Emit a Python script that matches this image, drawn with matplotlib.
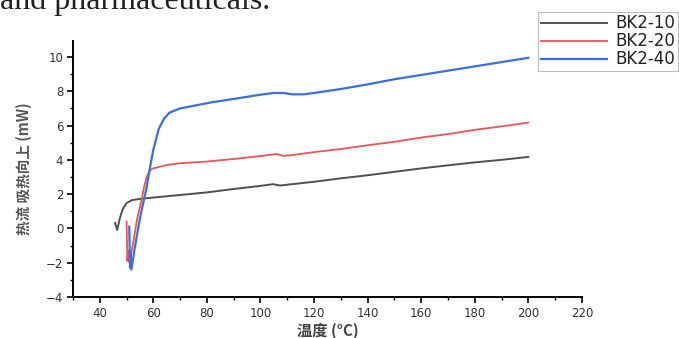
import matplotlib
matplotlib.use("Agg")
import matplotlib.pyplot as plt
from matplotlib.ticker import MultipleLocator

plt.rcParams['font.family'] = ['DejaVu Sans', 'Noto Sans CJK SC']

# 数据
t_10 = [45.7, 46.5, 47.5, 48.5, 50, 52, 55, 60, 70, 80, 90, 100, 104.7, 107.3,
        110, 120, 130, 140, 150, 160, 170, 180, 190, 200]
hf_10 = [0.32, -0.09, 0.6, 1.1, 1.48, 1.65, 1.72, 1.8, 1.95, 2.1, 2.3, 2.48, 2.58, 2.5,
         2.55, 2.72, 2.92, 3.1, 3.3, 3.5, 3.68, 3.85, 4.0, 4.17]

t_20 = [50.0, 50.3, 50.6, 51.0, 51.6, 52.5, 54, 55.6, 56.5, 57.5, 58.8, 60, 65, 70,
        80, 90, 100, 106, 108.5, 112, 120, 130, 140, 150, 160, 170, 180, 190, 200]
hf_20 = [0.4, -1.9, -1.3, -2.0, -1.6, -0.8, 0.6, 1.66, 2.4, 3.0, 3.41, 3.5, 3.7, 3.8,
         3.9, 4.05, 4.22, 4.34, 4.23, 4.28, 4.45, 4.63, 4.85, 5.05, 5.3, 5.5, 5.75, 5.95, 6.17]

t_40 = [51.0, 51.3, 51.5, 51.8, 53, 55, 57.5, 58.8, 60, 62, 64, 66, 70, 75, 82, 90,
        100, 105, 108.5, 112, 116, 120, 130, 140, 150, 160, 170, 180, 190, 200]
hf_40 = [0.1, -2.3, -1.4, -2.4, -1.2, 0.6, 2.4, 3.6, 4.6, 5.8, 6.4, 6.75, 7.0, 7.15, 7.36, 7.55,
         7.8, 7.9, 7.9, 7.82, 7.82, 7.9, 8.13, 8.4, 8.7, 8.95, 9.2, 9.45, 9.7, 9.95]

labels = ['BK2-10', 'BK2-20', 'BK2-40']

fig = plt.figure(figsize=(6.79, 3.38), dpi=100)
ax = fig.add_axes([0.1075, 0.1213, 0.7495, 0.7574])

ax.plot(t_10, hf_10, color='#505050', lw=1.4, label=labels[0])
ax.plot(t_20, hf_20, color='#e8555a', lw=1.3, label=labels[1])
ax.plot(t_40, hf_40, color='#3b6fdc', lw=1.6, label=labels[2])

ax.set_xlim(30, 220)
ax.set_ylim(-4, 10.93)
ax.xaxis.set_minor_locator(MultipleLocator(10))
ax.yaxis.set_major_locator(MultipleLocator(2))
ax.yaxis.set_minor_locator(MultipleLocator(1))
ax.set_xticks(range(40, 221, 20))
ax.spines['top'].set_visible(False)
ax.spines['right'].set_visible(False)
ax.spines['left'].set_linewidth(1.4)
ax.spines['bottom'].set_linewidth(1.4)
ax.tick_params(which='major', direction='out', length=4, width=1.2, labelsize=8.5,
               labelcolor='#333333', pad=3)
ax.tick_params(which='minor', direction='out', length=2.5, width=1.0)

ax.set_xlabel('温度 (°C)', fontsize=11, fontweight='bold', color='#444444',
              family=['Noto Sans CJK SC', 'DejaVu Sans'], labelpad=2)
ax.set_ylabel('热流 吸热向上 (mW)', fontsize=10.5, fontweight='bold', color='#555555',
              family=['Noto Sans CJK SC', 'DejaVu Sans'], labelpad=10)

leg = ax.legend(loc='upper right', bbox_to_anchor=(678 / 679, 1 - 12 / 338),
                bbox_transform=fig.transFigure, fontsize=12, frameon=True,
                fancybox=False, edgecolor='#aaaaaa', handlelength=4.0,
                borderpad=0.15, labelspacing=0.0, handletextpad=0.5,
                borderaxespad=0)
leg.get_frame().set_linewidth(0.8)
for txt in leg.get_texts():
    txt.set_color('#222222')

# 截图顶部被裁掉的正文
fig.text(0.0, 1 - 9 / 338, 'and pharmaceuticals.', family='Liberation Serif',
         fontsize=23, ha='left', va='baseline', color='#222222')

fig.savefig('out.png', dpi=100)
